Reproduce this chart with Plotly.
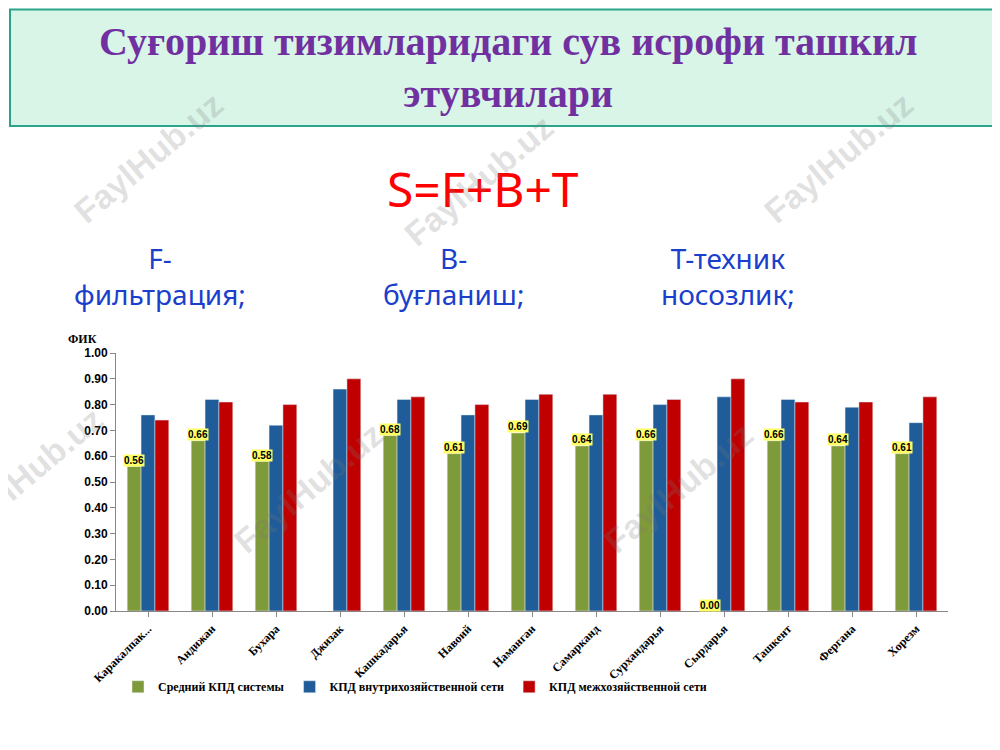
import plotly.graph_objects as go

regions = ["Каракалпак...", "Андижан", "Бухара", "Джизак", "Кашкадарья", "Навоий", "Наманган",
           "Самарканд", "Сурхандарья", "Сырдарья", "Ташкент", "Фергана", "Хорезм"]
system_kpd = [0.56, 0.66, 0.58, None, 0.68, 0.61, 0.69, 0.64, 0.66, 0.00, 0.66, 0.64, 0.61]
inner_kpd = [0.76, 0.82, 0.72, 0.86, 0.82, 0.76, 0.82, 0.76, 0.80, 0.83, 0.82, 0.79, 0.73]
inter_kpd = [0.74, 0.81, 0.80, 0.90, 0.83, 0.80, 0.84, 0.84, 0.82, 0.90, 0.81, 0.81, 0.83]

serif = "Liberation Serif"
fig = go.Figure()
fig.add_bar(name="Средний КПД системы", x=regions, y=system_kpd, marker_color="#7f9a3a")
fig.add_bar(name="КПД внутрихозяйственной сети", x=regions, y=inner_kpd, marker_color="#1f5c99")
fig.add_bar(name="КПД межхозяйственной сети", x=regions, y=inter_kpd, marker_color="#c00000")

# value labels on green bars
for r, v in zip(regions, system_kpd):
    if v is None:
        continue
    fig.add_annotation(x=r, y=v, text=f"<b>{v:.2f}</b>", showarrow=False, xshift=-14, yshift=6,
                       bgcolor="#ffff66", font=dict(size=10, family="Liberation Sans", color="black"),
                       borderpad=0)

fig.update_layout(
    width=1000, height=750, margin=dict(l=0, r=0, t=0, b=0, autoexpand=False),
    paper_bgcolor="white", plot_bgcolor="white",
    barmode="group", bargap=0.35, bargroupgap=0,
    xaxis=dict(domain=[0.108, 0.94], tickangle=-45, showline=True, linecolor="#888",
               ticks="outside", tickcolor="#888", automargin=False,
               tickfont=dict(family=serif, size=12, color="black", weight="bold")),
    yaxis=dict(domain=[0.196, 0.54], range=[0, 1.0], dtick=0.1, tickformat=".2f", automargin=False,
               showline=True, linecolor="#888", showgrid=False, ticks="outside", tickcolor="#888",
               tickfont=dict(family="Liberation Sans", size=12, color="black", weight="bold")),
    legend=dict(orientation="h", x=0.11, y=0.095, yanchor="middle", xanchor="left",
                font=dict(family=serif, size=12, color="black", weight="bold"), itemwidth=30,
                bgcolor="rgba(0,0,0,0)"),
    showlegend=True,
)


def label(x, y, text, font, **kw):
    fig.add_annotation(xref="paper", yref="paper", x=x, y=y, xanchor=kw.pop("xanchor", "center"),
                       yanchor="middle", showarrow=False, text=text, font=font, **kw)


# title box
fig.add_shape(type="rect", xref="paper", yref="paper", x0=0.002, x1=0.998, y0=1 - 118 / 750, y1=0.998,
              fillcolor="#d8f5e8", line=dict(color="#2aa58a", width=2), layer="below")
label(0.5, 1 - 60 / 750, "Суғориш тизимларидаги сув исрофи ташкил<br>этувчилари",
      dict(family=serif, size=40, color="#7030a0", weight="bold"))
label(0.475, 1 - 180 / 750, "S=F+B+T", dict(family="Noto Sans", size=48, color="#ff0000"))
for txt, xx in [("F-<br>фильтрация;", 0.152), ("В-<br>буғланиш;", 0.445), ("Т-техник<br>носозлик;", 0.72)]:
    label(xx, 1 - 268 / 750, txt, dict(family="Noto Sans", size=28, color="#1a3fcc"))
label(0.058, 1 - 331 / 750, "<b>ФИК</b>", dict(family=serif, size=12, color="black"), xanchor="left")

# watermarks
for wx, wy in [(0.14, 0.80), (0.47, 0.77), (0.83, 0.80), (0.02, 0.38), (0.3, 0.36), (0.67, 0.36)]:
    label(wx, wy, "FaylHub.uz", dict(family="Liberation Sans", size=34,
                                     color="rgba(120,120,120,0.22)", weight="bold"), textangle=-40)

fig.write_html("out.html")
